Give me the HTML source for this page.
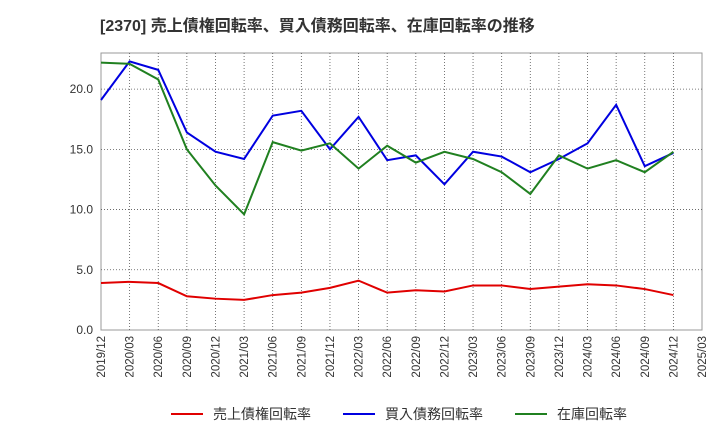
<!DOCTYPE html>
<html><head><meta charset="utf-8"><style>
body{margin:0;background:#fff;font-family:"Liberation Sans","Noto Sans CJK JP",sans-serif;}
</style></head><body>
<svg id="c" width="720" height="440" xmlns="http://www.w3.org/2000/svg">
<text x="100" y="31" font-size="16" font-weight="bold" fill="#333" font-family="Liberation Sans, Noto Sans CJK JP, sans-serif">[2370]  売上債権回転率、買入債務回転率、在庫回転率の推移</text>
<g id="grid"></g><g id="axes"></g><g id="series"></g><g id="legend"></g>
</svg>
<script>
const xLabels=["2019/12","2020/03","2020/06","2020/09","2020/12","2021/03","2021/06","2021/09","2021/12","2022/03","2022/06","2022/09","2022/12","2023/03","2023/06","2023/09","2023/12","2024/03","2024/06","2024/09","2024/12","2025/03"];
const yTicks=[0,5,10,15,20];
const yTickLabels=["0.0","5.0","10.0","15.0","20.0"];
const receivables=[3.9,4.0,3.9,2.8,2.6,2.5,2.9,3.1,3.5,4.1,3.1,3.3,3.2,3.7,3.7,3.4,3.6,3.8,3.7,3.4,2.9];
const payables=[19.1,22.3,21.6,16.4,14.8,14.2,17.8,18.2,15.0,17.7,14.1,14.5,12.1,14.8,14.4,13.1,14.2,15.5,18.7,13.6,14.7];
const inventory=[22.2,22.1,20.8,15.0,12.0,9.6,15.6,14.9,15.5,13.4,15.3,13.9,14.8,14.2,13.1,11.3,14.5,13.4,14.1,13.1,14.8];
const seriesNames=["売上債権回転率","買入債務回転率","在庫回転率"];
const L=101,R=702,T=53,B=330,YMAX=23;
const NS="http://www.w3.org/2000/svg";
const xs=i=>L+(R-L)*i/(xLabels.length-1);
const ys=v=>B-(B-T)*v/YMAX;
function mk(tag,attrs,parent){const e=document.createElementNS(NS,tag);for(const k in attrs)e.setAttribute(k,attrs[k]);parent.appendChild(e);return e;}
const grid=document.getElementById('grid'),axes=document.getElementById('axes'),ser=document.getElementById('series'),leg=document.getElementById('legend');
let bg=mk('rect',{x:L,y:T,width:R-L,height:B-T,fill:'#fff',stroke:'#999'},grid);


xLabels.forEach((lab,i)=>{
  const x=xs(i);
  if(i>0&&i<xLabels.length-1){let g=mk('line',{x1:x,x2:x,y1:T,y2:B,stroke:'#555','stroke-dasharray':'1,2','stroke-width':0.8},grid);
  
  }
  let t=mk('text',{x:0,y:0,'font-size':11.5,fill:'#333','text-anchor':'end',transform:`translate(${x+4},${B+6}) rotate(-90)`},axes);
  t.textContent=lab;
  
  
});
yTicks.forEach((v,i)=>{
  const y=ys(v);
  if(v>0){let g=mk('line',{x1:L,x2:R,y1:y,y2:y,stroke:'#555','stroke-dasharray':'1,2','stroke-width':0.8},grid);
  
  }
  let t=mk('text',{x:L-8,y:y+4,'font-size':12,fill:'#333','text-anchor':'end'},axes);
  t.textContent=yTickLabels[i];
  
  
});
const colors=["#e00000","#0000e0","#208020"];
const names=["receivables-turnover-line","payables-turnover-line","inventory-turnover-line"];
[receivables,payables,inventory].forEach((d,k)=>{
  let p=mk('polyline',{points:d.map((v,i)=>xs(i)+','+ys(v)).join(' '),fill:'none',stroke:colors[k],'stroke-width':2},ser);
  
  
});
const lx=[171,343,515];
seriesNames.forEach((n,k)=>{
  let g=mk('g',{},leg);
  
  
  mk('line',{x1:lx[k],x2:lx[k]+32,y1:414,y2:414,stroke:colors[k],'stroke-width':2},g);
  let t=mk('text',{x:lx[k]+42,y:419,'font-size':14,fill:'#333'},g);
  t.textContent=n;
});
</script>
</body></html>
